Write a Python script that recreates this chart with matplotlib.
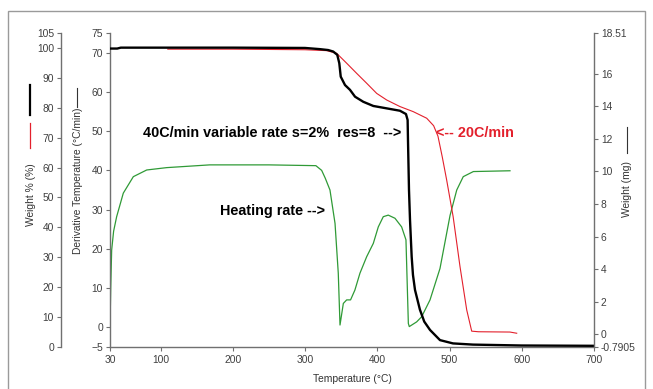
import matplotlib
matplotlib.use("Agg")
import matplotlib.pyplot as plt
from matplotlib.lines import Line2D
from matplotlib.patches import Rectangle

plt.rcParams['font.family'] = ['Liberation Sans', 'DejaVu Sans']

# ---------------- data ----------------
temp_rate = [30, 31, 32.3, 35, 39.2, 48.4, 62.3, 80.8, 108.5, 168, 250, 315, 323, 328,
             334.5, 341.5, 346, 348.4, 353, 357.6, 363, 369, 376, 385.3, 394.5, 401.4,
             408.3, 415.2, 424.5, 433.7, 439.7, 443, 444.3, 454.5, 461.4, 473, 486.8,
             500.7, 510, 519, 533, 583.7]
heating_rate = [0, 10, 19.7, 24.5, 28.2, 34.2, 38.4, 40.1, 40.7, 41.4, 41.4, 41.2, 40.0, 38.0,
                35.0, 26.5, 13.8, 0.6, 6.1, 7.0, 7.0, 9.5, 13.8, 18.0, 21.4, 25.6,
                28.2, 28.6, 27.8, 25.6, 22.3, 1.0, 0.2, 1.4, 2.7, 7.0, 15.0,
                28.5, 35.0, 38.4, 39.7, 39.9]

temp_var = [30, 40, 45, 200, 300, 320.7, 332, 339, 344.6, 347.4, 349.4, 355.3, 362.2, 369.2,
            380.6, 394.5, 413, 431.4, 439.7, 442, 442.5, 443.9, 445.3, 447.6, 449.4, 452.2,
            459, 465, 473, 486.8, 504.8, 532.5, 600, 700]
weight_var = [99.8, 99.8, 100.1, 100.1, 100.0, 99.6, 99.3, 98.8, 97.7, 94.9, 90.4, 87.6, 86.0, 83.7,
              82.0, 80.6, 79.8, 79.0, 77.9, 75.9, 69.2, 52.5, 42.5, 30.2, 24.1, 19.1,
              12.5, 8.5, 5.7, 2.3, 1.2, 0.8, 0.5, 0.4]

temp_20 = [110, 200, 300, 330, 343.8, 357.6, 371.5, 385.3, 399.2, 413, 431.4, 449.8, 468.4,
           478, 484, 490, 496, 505, 514.5, 523.8, 530.7, 540, 583.7, 593]
weight_20 = [99.6, 99.6, 99.4, 99.1, 98.2, 94.9, 91.5, 88.2, 84.8, 82.6, 80.4, 78.7, 76.5,
             74.0, 70.5, 63.5, 55.9, 43.6, 26.9, 12.4, 5.3, 5.1, 5.0, 4.6]

x_ticks = [30, 100, 200, 300, 400, 500, 600, 700]
rate_ticks = [-5, 0, 10, 20, 30, 40, 50, 60, 70, 75]
wpct_ticks = [0, 10, 20, 30, 40, 50, 60, 70, 80, 90, 100, 105]
mg_ticks = [-0.7905, 0, 2, 4, 6, 8, 10, 12, 14, 16, 18.51]
mg_labels = ["-0.7905", "0", "2", "4", "6", "8", "10", "12", "14", "16", "18.51"]

# ---------------- figure ----------------
W, H = 653, 389
fig = plt.figure(figsize=(W / 100, H / 100), dpi=100)
fig.patch.set_facecolor('white')

# outer gray frame
fig.add_artist(Rectangle((8 / W, -0.05), (645 - 8) / W, 1.05 - 11 / H,
                         transform=fig.transFigure, fill=False,
                         edgecolor='#9a9a9a', linewidth=1.0))

L, R, T, B = 110, 594, 33, 347
ax = fig.add_axes([L / W, 1 - B / H, (R - L) / W, (B - T) / H])
axw = ax.twinx()
axr = ax.twinx()

tick_col = '#404040'
spine_col = '#707070'
fs = 7.4

# derivative (heating rate) axis - main left
ax.plot(temp_rate, heating_rate, color='#2f9a36', lw=0.9, zorder=2)
ax.set_xlim(30, 700)
ax.set_ylim(-5, 75)
ax.set_xticks(x_ticks)
ax.set_yticks(rate_ticks)

# weight % axis (offset left)
axw.yaxis.set_ticks_position('left')
axw.yaxis.set_label_position('left')
axw.spines['left'].set_position(('outward', 49 * 72 / 100))
axw.plot(temp_20, weight_20, color='#e3202c', lw=0.8, zorder=3)
axw.plot(temp_var, weight_var, color='black', lw=1.7, zorder=4)
axw.set_ylim(0, 105)
axw.set_yticks(wpct_ticks)

# weight mg axis (right)
axr.set_ylim(-0.7905, 18.51)
axr.set_yticks(mg_ticks)
axr.set_yticklabels(mg_labels)

for a in (ax, axw, axr):
    for s in a.spines.values():
        s.set_visible(False)
    a.tick_params(colors=tick_col, labelsize=fs, length=3, width=0.8,
                  direction='out', pad=2)
    a.patch.set_visible(False)

ax.spines['left'].set_visible(True)
ax.spines['bottom'].set_visible(True)
axw.spines['left'].set_visible(True)
axr.spines['right'].set_visible(True)
for s in (ax.spines['left'], ax.spines['bottom'], axw.spines['left'], axr.spines['right']):
    s.set_color(spine_col)
    s.set_linewidth(1.0)
ax.tick_params(axis='x', color=spine_col, pad=3)
ax.tick_params(axis='y', color=spine_col)
axw.tick_params(axis='y', color=spine_col)
axr.tick_params(axis='y', color=spine_col)
axw.tick_params(axis='x', bottom=False, labelbottom=False, top=False, labeltop=False)
axr.tick_params(axis='x', bottom=False, labelbottom=False, top=False, labeltop=False)

# annotations
afs = 10.4
ax.text(75.7, 49.5, "40C/min variable rate s=2%  res=8  -->", fontsize=afs,
        fontweight='bold', color='black', va='center', ha='left', zorder=6)
ax.text(481, 49.5, "<-- 20C/min", fontsize=afs, fontweight='bold',
        color='#e3202c', va='center', ha='left', zorder=6)
ax.text(182, 29.6, "Heating rate -->", fontsize=afs, fontweight='bold',
        color='black', va='center', ha='left', zorder=6)

# axis labels with line keys
lab_col = '#333333'
fig.text(31 / W, 1 - 195 / H, "Weight % (%)", rotation=90, fontsize=fs,
         color=lab_col, ha='center', va='center')
fig.add_artist(Line2D([30 / W, 30 / W], [1 - 85 / H, 1 - 115 / H], color='black',
                      lw=1.6, transform=fig.transFigure))
fig.add_artist(Line2D([30 / W, 30 / W], [1 - 123 / H, 1 - 148 / H], color='#e3202c',
                      lw=0.9, transform=fig.transFigure))

fig.text(78 / W, 1 - 181 / H, "Derivative Temperature (°C/min)", rotation=90,
         fontsize=fs, color=lab_col, ha='center', va='center')
fig.add_artist(Line2D([77 / W, 77 / W], [1 - 88 / H, 1 - 107 / H], color='#333333',
                      lw=0.8, transform=fig.transFigure))

fig.text(627 / W, 1 - 189 / H, "Weight (mg)", rotation=90, fontsize=fs,
         color=lab_col, ha='center', va='center')
fig.add_artist(Line2D([627 / W, 627 / W], [1 - 127 / H, 1 - 153 / H], color='#333333',
                      lw=0.8, transform=fig.transFigure))

fig.text(352 / W, 1 - 379 / H, "Temperature (°C)", fontsize=fs, color=lab_col,
         ha='center', va='center')

fig.savefig("out.png", dpi=100, facecolor='white')
